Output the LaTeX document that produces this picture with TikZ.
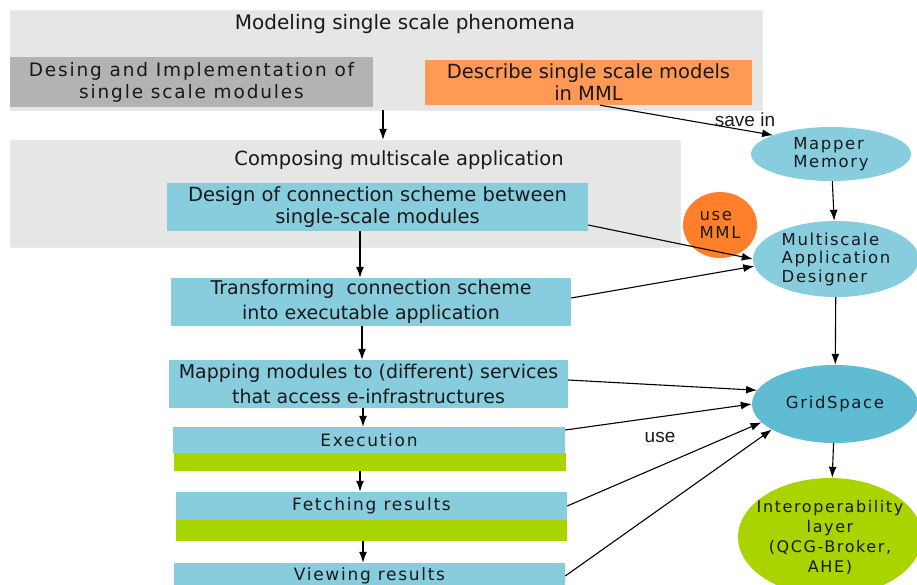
\documentclass[tikz,border=0pt]{standalone}
\usepackage{fontspec}
\usetikzlibrary{shapes.geometric,arrows.meta}
\setmainfont{DejaVu Sans}
\newfontfamily\spaced[LetterSpace=10]{DejaVu Sans}
\newfontfamily\lab{Liberation Sans}
\definecolor{pane}{HTML}{E6E6E6}
\definecolor{gbox}{HTML}{B3B3B3}
\definecolor{obox}{HTML}{FF9955}
\definecolor{bbox}{HTML}{87CDDE}
\definecolor{gspace}{HTML}{5FBCD3}
\definecolor{lime}{HTML}{AAD400}
\definecolor{ocirc}{HTML}{FF7F2A}

\begin{document}
\begin{tikzpicture}
[x=1pt,y=-1pt,
 every node/.style={text=black!90},
 panel/.style={fill=pane,draw=black!8,inner sep=0pt},
 box/.style={inner sep=0pt,align=center,font=\fontsize{20}{24}\selectfont},
 stepbox/.style={fill=bbox,inner sep=0pt,font=\spaced\fontsize{17}{20}\selectfont},
 bar/.style={fill=lime,inner sep=0pt},
 ell/.style={ellipse,inner sep=0pt,font=\spaced\fontsize{16.5}{18.5}\selectfont},
 tag/.style={font=\lab\fontsize{19}{22}\selectfont},
 link/.style={line width=1.1pt,-{Latex[length=11pt,width=8pt]}}]
\useasboundingbox (0,0) rectangle (917,584);
\clip (0,0) rectangle (917,584);

% modeling part
\node[panel,minimum width=752pt,minimum height=100pt] (p1) at (386,60) {};
\node[box] (t1) at (405,24) {Modeling single scale phenomena};
\node[box,fill=gbox,minimum width=363pt,minimum height=50pt,font=\spaced\fontsize{18.5}{22}\selectfont] (v1) at (191.5,82) {Desing and Implementation of\\single scale modules};
\node[box,fill=obox,minimum width=327pt,minimum height=45pt,font=\fontsize{19.5}{22}\selectfont] (v2) at (588.5,82.5) {Describe single scale models\\in MML};

% composing part
\node[panel,minimum width=670pt,minimum height=107pt] (p2) at (345,193.5) {};
\node[box,font=\fontsize{19.5}{24}\selectfont] (t2) at (399,160) {Composing multiscale application};
\node[box,fill=bbox,minimum width=421pt,minimum height=48pt,font=\fontsize{19.5}{22}\selectfont] (v3) at (377.5,207) {Design of connection scheme between\\single-scale modules};

% steps
\node[box,fill=bbox,minimum width=400pt,minimum height=48pt,font=\fontsize{19}{25}\selectfont] (v4) at (371,302) {Transforming\ \ connection scheme\\into executable application};
\node[box,fill=bbox,minimum width=399pt,minimum height=48pt,font=\fontsize{19}{25}\selectfont] (v5) at (368.5,384) {Mapping modules to (different) services\\that access e-infrastructures};
\node[stepbox,minimum width=392pt,minimum height=26pt] (v6) at (369,440) {Execution};
\node[bar,minimum width=392pt,minimum height=18pt] (v6b) at (370,462) {};
\node[stepbox,minimum width=391pt,minimum height=28pt] (v7) at (371.5,506) {Fetching results};
\node[bar,minimum width=391pt,minimum height=21pt] (v7b) at (371.5,530.5) {};
\node[stepbox,minimum width=391pt,minimum height=26pt] (v8) at (369.5,576) {Viewing results};

% services
\node[ell,fill=bbox,minimum width=160pt,minimum height=54pt,align=left] (e1) at (831,154) {Mapper\\Memory};
\node[ell,fill=bbox,minimum width=166pt,minimum height=76pt,align=left] (e2) at (836,259) {Multiscale\\Application\\Designer};
\node[ell,fill=gspace,minimum width=166pt,minimum height=78pt] (e3) at (835,404) {GridSpace};
\node[ell,fill=lime,inner xsep=-24pt,inner ysep=-14pt,minimum width=184pt,minimum height=118pt,align=center,font=\spaced\fontsize{16}{20}\selectfont] (e4) at (830,537) {Interoperability\\layer\\(QCG-Broker,\\AHE)};
\node[ell,fill=ocirc,minimum width=74pt,minimum height=66pt,align=left] (e5) at (720,225) {use\\MML};

\node[tag] (l1) at (745,120) {save in};
\node[tag] (l2) at (660,437) {use};

% flow
\draw[link] ([xshift=-3pt]p1.south) -- ([xshift=38pt]p2.north);
\draw[link] ([xshift=-17.5pt]v3.south) -- ([xshift=-11pt]v4.north);
\draw[link] ([xshift=-9pt]v4.south) -- ([xshift=-6.5pt]v5.north);
\draw[link] ([xshift=-5.5pt]v5.south) -- ([xshift=-6pt]v6.north);
\draw[link] ([xshift=-10pt]v6b.south) -- ([xshift=-11.5pt]v7.north);
\draw[link] ([xshift=-8.5pt]v7b.south) -- ([xshift=-6.5pt]v8.north);

\draw[link] ([xshift=11.5pt]v2.south) -- (e1.162);
\draw[link] ([yshift=-18pt]v3.east) -- (e2.180);
\draw[link] ([yshift=4pt]v4.east) -- (e2.185);
\draw[link] ([yshift=4pt]v5.east) -- (e3.170);
\draw[link] ([yshift=10pt]v6.east) -- (e3.180);
\draw[link] (v7.east) -- (e3.194);
\draw[link] (v8.east) -- (e3.202);

\foreach \from/\to in {e1/e2,e2/e3,e3/e4}
\draw[link] (\from) -- (\to);
\end{tikzpicture}
\end{document}
